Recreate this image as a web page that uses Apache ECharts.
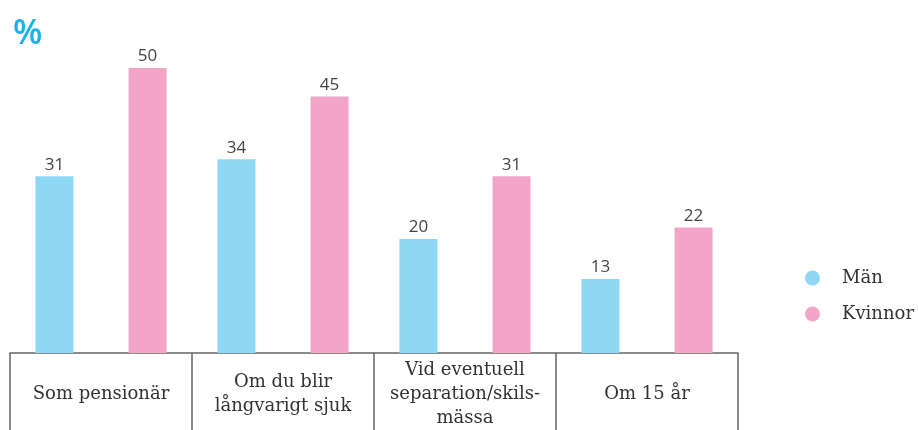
<!DOCTYPE html>
<html>
<head>
<meta charset="utf-8">
<script src="https://cdn.jsdelivr.net/npm/echarts@6/dist/echarts.min.js"></script>
<style>
  html, body { margin: 0; padding: 0; background: #fff; overflow: hidden; }
</style>
</head>
<body>
<div id="myChart" style="width: 918px; height: 430px;"></div>
<script>
// chart data
var categories = ['Som pensionär', 'Om du blir\nlångvarigt sjuk', 'Vid eventuell\nseparation/skils-\nmässa', 'Om 15 år']
var manData = [31, 34, 20, 13]
var kvinnorData = [50, 45, 31, 22]
var seriesNames = ['Män', 'Kvinnor']

var myChart = echarts.init(document.getElementById('myChart'))
myChart.setOption({
  title: {
    text: '%',
    left: 8,
    top: 12,
    textStyle: {
      color: '#1ab0ea',
      fontFamily: 'Open Sans',
      fontSize: 34,
      fontWeight: 600
    }
  },
  legend: {
    orient: 'vertical',
    left: 800,
    top: 264,
    icon: 'circle',
    itemWidth: 15,
    itemHeight: 15,
    itemGap: 18,
    data: seriesNames,
    textStyle: {
      color: '#333',
      fontFamily: 'DejaVu Serif',
      fontSize: 18,
      padding: [0, 0, 0, 17]
    }
  },
  grid: {
    left: 10,
    width: 728,
    top: 68,
    height: 289,
    containLabel: false
  },
  xAxis: {
    type: 'category',
    data: categories,
    axisLine: { lineStyle: { color: '#666', width: 1.5 } },
    axisTick: { show: true, interval: 0, length: 80, lineStyle: { color: '#666', width: 1.5 } },
    axisLabel: {
      interval: 0,
      margin: 41,
      verticalAlign: 'middle',
      lineHeight: 24,
      color: '#333',
      fontFamily: 'DejaVu Serif',
      fontSize: 18
    }
  },
  yAxis: {
    type: 'value',
    min: 0,
    max: 50,
    show: false,
    splitLine: { show: false }
  },
  series: [
    {
      name: seriesNames[0],
      type: 'bar',
      color: '#8ed8f6',
      barWidth: 38,
      barGap: '145%',
      data: manData,
      label: {
        show: true,
        position: 'top',
        distance: 3,
        color: '#444',
        fontFamily: 'Open Sans',
        fontSize: 17
      }
    },
    {
      name: seriesNames[1],
      type: 'bar',
      color: '#f2a4c9',
      barWidth: 38,
      data: kvinnorData,
      label: {
        show: true,
        position: 'top',
        distance: 3,
        color: '#444',
        fontFamily: 'Open Sans',
        fontSize: 17
      }
    }
  ]
})
</script>
</body>
</html>
